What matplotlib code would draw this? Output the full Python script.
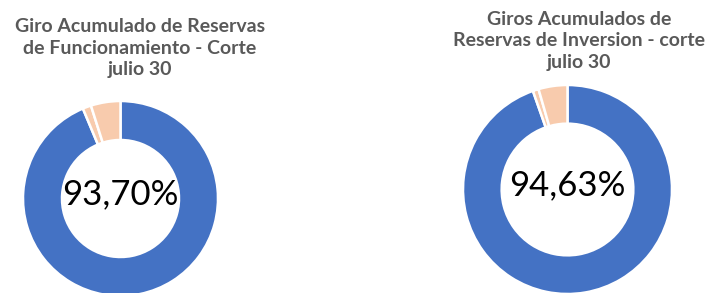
"""Donut charts: giro acumulado de reservas, corte julio 30."""

import matplotlib

matplotlib.use("Agg")
import matplotlib.pyplot as plt

# Data
titles = [
    "Giro Acumulado de Reservas\nde Funcionamiento - Corte\njulio 30",
    "Giros Acumulados de\nReservas de Inversion - corte\njulio 30",
]
center_labels = ["93,70%", "94,63%"]
funcionamiento = [93.70, 1.4, 4.9]
inversion = [94.63, 0.9, 4.47]

colors = ["#4472C4", "#F8CBAD", "#F8CBAD"]
title_color = "#595959"

W, H = 708, 293
fig = plt.figure(figsize=(W / 100, H / 100), dpi=100)


def px_axes(cx, cy, r):
    """Square axes centred at pixel (cx, cy) from the top-left, radius r."""
    return fig.add_axes([(cx - r) / W, (H - cy - r) / H, 2 * r / W, 2 * r / H])


def donut(ax, values, hole_width, label, fontsize):
    ax.pie(
        values,
        colors=colors,
        startangle=90,
        counterclock=False,
        radius=1,
        wedgeprops={"width": hole_width, "edgecolor": "white", "linewidth": 1.8},
    )
    ax.set_xlim(-1, 1)
    ax.set_ylim(-1, 1)
    ax.set_aspect("equal")
    ax.axis("off")
    ax.text(0, 0.04, label, ha="center", va="center", fontsize=fontsize,
            family="Lato", color="black")


ax1 = px_axes(120.5, 198.5, 97.5)
donut(ax1, funcionamiento, 0.4, center_labels[0], 25)

ax2 = px_axes(567.5, 189.5, 104.5)
donut(ax2, inversion, 0.37, center_labels[1], 25)

fig.text(140 / W, 1 - 48 / H, titles[0], ha="center", va="center",
         fontsize=14, fontweight="bold", family="Lato", color=title_color,
         linespacing=1.3)
fig.text(579 / W, 1 - 41 / H, titles[1], ha="center", va="center",
         fontsize=14, fontweight="bold", family="Lato", color=title_color,
         linespacing=1.3)

fig.savefig("out.png", dpi=100)
